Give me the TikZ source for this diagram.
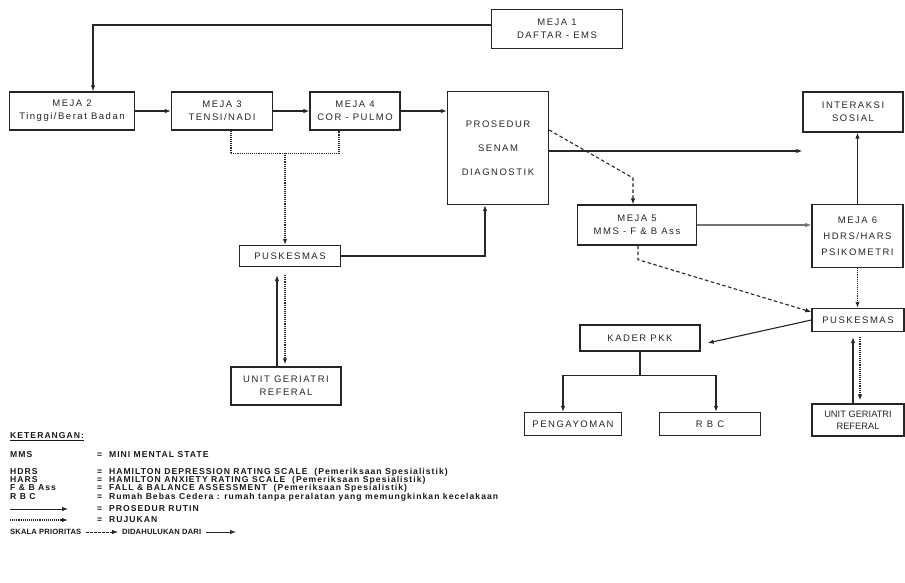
\documentclass[tikz,border=0pt]{standalone}
\usepackage{fontspec}
\setmainfont{Liberation Sans}
\newfontfamily\boxfont[LetterSpace=16]{Liberation Sans}
\newfontfamily\legfont[LetterSpace=12]{Liberation Sans}
\newfontfamily\skalafont[LetterSpace=2]{Liberation Sans}
\usetikzlibrary{arrows.meta}
\begin{document}
\begin{tikzpicture}[x=1pt,y=-1pt,
  box/.style={draw=black!85,line width=1.3pt,align=center,inner sep=1pt,
    font=\boxfont\fontsize{9.5}{13}\selectfont,text=black!85},
  arr/.style={-{Latex[length=6pt,width=4.5pt]},line width=1.1pt,draw=black!85},
  refl/.style={arr,densely dotted,line width=1.3pt},
  diag/.style={arr,dash pattern=on 3.5pt off 2.5pt,line width=1.1pt},
  leg/.style={anchor=west,inner sep=0pt,font=\legfont\bfseries\fontsize{8.6}{9}\selectfont,text=black!90},
  skala/.style={leg,font=\skalafont\bfseries\fontsize{7.6}{9}\selectfont}]
\useasboundingbox (0,0) rectangle (905,582);
% nodes
\node[box,minimum width=131,minimum height=39] (m1) at (557,29) {MEJA 1\\DAFTAR - EMS};
\node[box,minimum width=125,minimum height=38] (m2) at (72,111) {MEJA 2\\Tinggi/Berat Badan};
\node[box,minimum width=101,minimum height=38] (m3) at (222,111) {MEJA 3\\TENSI/NADI};
\node[box,minimum width=90,minimum height=38] (m4) at (355,111) {MEJA 4\\COR - PULMO};
\node[box,minimum width=101,minimum height=113,font=\boxfont\fontsize{9.5}{24}\selectfont] (pr) at (498,148) {PROSEDUR\\SENAM\\DIAGNOSTIK};
\node[box,minimum width=100,minimum height=40] (is) at (853,112) {INTERAKSI\\SOSIAL};
\node[box,minimum width=119,minimum height=40] (m5) at (637,225) {MEJA 5\\MMS - F \& B Ass};
\node[box,minimum width=91,minimum height=63,font=\boxfont\fontsize{9.5}{16}\selectfont] (m6) at (857.5,236) {MEJA 6\\HDRS/HARS\\PSIKOMETRI};
\node[box,minimum width=101,minimum height=21] (pk1) at (290,256) {PUSKESMAS};
\node[box,minimum width=110,minimum height=38] (ug1) at (286,386) {UNIT GERIATRI\\REFERAL};
\node[box,minimum width=92,minimum height=23] (pk2) at (858,320) {PUSKESMAS};
\node[box,minimum width=120,minimum height=26] (ka) at (640,338) {KADER PKK};
\node[box,minimum width=97,minimum height=23] (pe) at (573,424) {PENGAYOMAN};
\node[box,minimum width=101,minimum height=23] (rbc) at (710,424) {R B C};
\node[box,minimum width=92,minimum height=32,font=\fontsize{9.3}{12}\selectfont] (ug2) at (858,420) {UNIT GERIATRI\\REFERAL};
% routine flow
\draw[arr] ([yshift=4pt]m1.west) -| ([xshift=21pt]m2.north);
\draw[arr] (m2) -- (m3);
\draw[arr] (m3) -- (m4);
\draw[arr] (m4.east) -- (m4.east -| pr.west);
\draw[arr] ([yshift=-3pt]pr.east) -- ([yshift=-3pt]pr.east -| is.west);
\draw[arr,draw=black!55] (m5.east) -- (m5.east -| m6.west);
\draw[arr] (m6.north) -- (m6.north |- is.south);
\draw[arr] (pk1.east) -| ([xshift=-13pt]pr.south);
\draw[arr] (pk2.west) -- ([xshift=7pt,yshift=-5pt]ka.east);
\draw[line width=1.1pt,draw=black!85] (ka.south) -- ++(0,24) coordinate (kj);
\draw[arr] (kj) -| ([xshift=-10pt]pe.north);
\draw[arr] (kj) -| ([xshift=6pt]rbc.north);
\draw[arr,shorten >=8pt] ([xshift=-9pt]ug1.north) -- ([xshift=-9pt]ug1.north |- pk1.south);
\draw[arr,shorten >=5pt] ([xshift=-5pt]ug2.north) -- ([xshift=-5pt]ug2.north |- pk2.south);
% referrals
\draw[refl,-] ([xshift=9pt]m3.south) -- ++(0,23) -| ([xshift=-16pt]m4.south);
\coordinate (j1) at (285,153);
\draw[refl] (j1) -- (j1 |- pk1.north);
\draw[refl,shorten <=8pt,shorten >=2pt] ([xshift=-1pt]ug1.north |- pk1.south) -- ([xshift=-1pt]ug1.north);
\draw[refl,shorten <=5pt,shorten >=3pt] ([xshift=2pt]pk2.south) -- ([xshift=2pt]ug2.north);
\draw[refl] (m6.south) -- (m6.south |- pk2.north);
\draw[diag] ([yshift=18pt]pr.east) -- ([xshift=-4pt]m5.north |- 0,178) -- ([xshift=-4pt]m5.north);
\draw[diag] ([xshift=1pt]m5.south) -- ++(0,14) -- ([yshift=8pt]pk2.west);
% legend
\node[leg] (l0) at (10,437) {\underline{KETERANGAN:}};
\node[leg] (a1) at (10,455) {MMS};
\node[leg] (b1) at (97,455) {=\ \ MINI MENTAL STATE};
\node[leg] (a2) at (10,472) {HDRS};
\node[leg] (b2) at (97,472) {=\ \ HAMILTON DEPRESSION RATING SCALE\ \ (Pemeriksaan Spesialistik)};
\node[leg] (a3) at (10,480) {HARS};
\node[leg] (b3) at (97,480) {=\ \ HAMILTON ANXIETY RATING SCALE\ \ (Pemeriksaan Spesialistik)};
\node[leg] (a4) at (10,488) {F \& B Ass};
\node[leg] (b4) at (97,488) {=\ \ FALL \& BALANCE ASSESSMENT\ \ (Pemeriksaan Spesialistik)};
\node[leg] (a5) at (10,497) {R B C};
\node[leg] (b5) at (97,497) {=\ \ Rumah Bebas Cedera : rumah tanpa peralatan yang memungkinkan kecelakaan};
\coordinate (s1) at (10,509); \coordinate (s2) at (68,509);
\draw[arr,line width=0.9pt] (s1) -- (s2);
\node[leg] (b6) at (97,509) {=\ \ PROSEDUR RUTIN};
\coordinate (r1) at (10,520); \coordinate (r2) at (68,520);
\draw[refl,line width=1.1pt] (r1) -- (r2);
\node[leg] (b7) at (97,520) {=\ \ RUJUKAN};
\node[skala] (c1) at (10,532) {SKALA PRIORITAS};
\coordinate (d1) at (86,532); \coordinate (d2) at (118,532);
\draw[arr,dash pattern=on 2.5pt off 1.5pt,line width=0.8pt] (d1) -- (d2);
\node[skala] (c2) at (122,532) {DIDAHULUKAN DARI};
\coordinate (e1) at (206,532); \coordinate (e2) at (236,532);
\draw[arr,line width=0.8pt] (e1) -- (e2);
\end{tikzpicture}
\end{document}
